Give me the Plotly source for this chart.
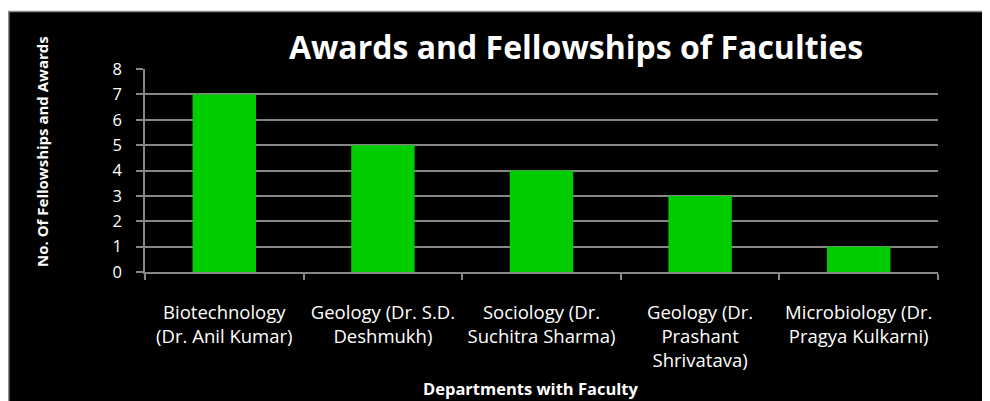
import plotly.graph_objects as go

departments = [
    "Biotechnology<br>(Dr. Anil Kumar)",
    "Geology (Dr. S.D.<br>Deshmukh)",
    "Sociology (Dr.<br>Suchitra Sharma)",
    "Geology (Dr.<br>Prashant<br>Shrivatava)",
    "Microbiology (Dr.<br>Pragya Kulkarni)",
]
awards = [7, 5, 4, 3, 1]
y_ticks = [0, 1, 2, 3, 4, 5, 6, 7, 8]

FONT = "Open Sans"
GRID = "#868686"

fig = go.Figure(
    go.Bar(
        x=departments,
        y=awards,
        marker=dict(color="#00CC00", line=dict(width=0)),
        width=0.4,
    )
)

# page has an 8px body margin, so plot coords are page coords minus 8
fig.update_layout(
    width=990,
    height=401,
    margin=dict(l=137, r=60, t=61, b=137),
    paper_bgcolor="white",
    plot_bgcolor="black",
    showlegend=False,
    font=dict(family=FONT, color="white", size=16),
    title=dict(
        text="<b>Awards and Fellowships of Faculties</b>",
        font=dict(family=FONT, size=32, color="white"),
        x=568 / 990, xanchor="center",
        y=1 - 40 / 401, yanchor="middle",
    ),
)

# black chart-area box with a thin gray edge
fig.add_shape(
    type="rect", xref="paper", yref="paper",
    x0=(0.75 - 137) / 793, x1=1.2, y0=-0.8, y1=(264 - 3.5) / 203,
    fillcolor="black", line=dict(color="#8c8c8c", width=1.5),
    layer="below",
)

# axis titles placed like the original
fig.add_annotation(
    text="<b>No. Of Fellowships and Awards</b>",
    xref="paper", yref="paper",
    x=(34 - 137) / 793, y=(264 - 144) / 203,
    xanchor="center", yanchor="middle", textangle=-90,
    showarrow=False, font=dict(size=15, color="white"),
)
fig.add_annotation(
    text="<b>Departments with Faculty</b>",
    xref="paper", yref="paper",
    x=(522 - 137) / 793, y=(264 - 381) / 203,
    xanchor="center", yanchor="middle",
    showarrow=False, font=dict(size=16.5, color="white"),
)

fig.update_xaxes(
    showgrid=False,
    showline=True, linecolor=GRID, linewidth=1.5,
    ticks="outside", tickson="boundaries", ticklen=6, tickcolor=GRID, tickwidth=1.5,
    ticklabelstandoff=23,
    tickfont=dict(size=18.5, color="white"),
)
fig.update_yaxes(
    range=[0, 8],
    tickvals=y_ticks,
    showgrid=True, gridcolor=GRID, gridwidth=1.5,
    showline=True, linecolor=GRID, linewidth=1.5,
    ticks="outside", ticklen=7, tickcolor=GRID, tickwidth=1.5,
    ticklabelstandoff=11,
    tickfont=dict(size=16.5, color="white"),
    zeroline=False,
)

fig.write_html("out.html")
